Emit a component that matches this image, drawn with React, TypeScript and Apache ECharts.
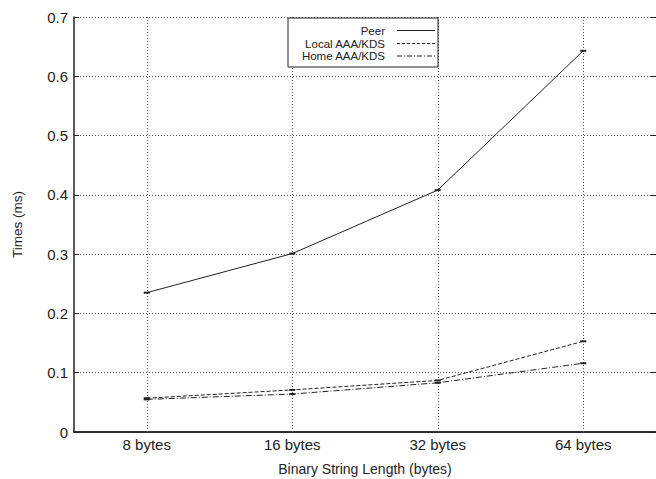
import React, { useEffect, useRef } from "react";
import * as echarts from "echarts";

const categories = ["8 bytes", "16 bytes", "32 bytes", "64 bytes"];
const peer = [0.235, 0.301, 0.408, 0.643];
const localKds = [0.057, 0.071, 0.087, 0.153];
const homeKds = [0.055, 0.064, 0.083, 0.116];
const seriesNames = ["Peer", "Local AAA/KDS", "Home AAA/KDS"];
const yTicks = { min: 0, max: 0.7, interval: 0.1 };

const FONT = "'Liberation Sans', Arial, sans-serif";
const INK = "#222";

export default function App() {
  const ref = useRef<HTMLDivElement>(null);
  useEffect(() => {
    if (!ref.current) return;
    const chart = echarts.init(ref.current, null, { renderer: "svg" });
    const lineStyles: any[] = [
      { type: "solid" },
      { type: [4, 2] },
      { type: [6, 2, 1, 2] },
    ];
    const datas = [peer, localKds, homeKds];
    const series: any[] = datas.map((d, i) => ({
      name: seriesNames[i],
      type: "line",
      data: d,
      symbol: "rect",
      symbolSize: [6, 2],
      itemStyle: { color: INK },
      lineStyle: { color: INK, width: 1, ...lineStyles[i] },
      z: 5,
      markLine:
        i === 0
          ? {
              silent: true,
              symbol: "none",
              label: { show: false },
              lineStyle: { color: "#555", type: [1, 2], width: 1 },
              data: categories.map((c) => ({ xAxis: c })),
              z: 1,
            }
          : undefined,
    }));
    const legendX = 288;
    const legendRows = [30.5, 43.5, 56];
    const graphic: any[] = [
      {
        type: "rect",
        shape: { x: legendX, y: 18, width: 150, height: 49 },
        style: { fill: "#fff", stroke: INK, lineWidth: 1 },
        z: 100,
      },
      ...seriesNames.map((n, i) => ({
        type: "text",
        x: 385,
        y: legendRows[i],
        style: {
          text: n,
          align: "right",
          verticalAlign: "middle",
          fill: INK,
          font: `11.5px ${FONT}`,
        },
        z: 101,
      })),
      ...seriesNames.map((n, i) => ({
        type: "line",
        shape: { x1: 397, y1: legendRows[i], x2: 435, y2: legendRows[i] },
        style: {
          stroke: INK,
          lineWidth: 1,
          lineDash: i === 0 ? null : i === 1 ? [3, 2] : [5, 2, 1, 2],
        },
        z: 101,
      })),
    ];
    chart.setOption({
      animation: false,
      backgroundColor: "#fff",
      textStyle: { fontFamily: FONT },
      grid: {
        left: 74,
        right: 0,
        top: 17,
        bottom: 47,
        containLabel: false,
        outerBoundsMode: "none",
      },
      xAxis: [
        {
          type: "category",
          data: categories,
          boundaryGap: true,
          name: "Binary String Length (bytes)",
          nameLocation: "middle",
          nameGap: 30,
          nameTextStyle: { color: INK, fontSize: 14, fontFamily: FONT },
          axisLine: { lineStyle: { color: INK, width: 1.5 } },
          axisTick: { inside: true, alignWithLabel: true, length: 5, lineStyle: { color: INK } },
          axisLabel: { color: INK, fontSize: 15, margin: 5, fontFamily: FONT },
          splitLine: { show: false },
        },
        {
          type: "category",
          data: categories,
          position: "top",
          boundaryGap: true,
          axisLine: { lineStyle: { color: INK, width: 1.5 } },
          axisTick: { inside: true, alignWithLabel: true, length: 5, lineStyle: { color: INK } },
          axisLabel: { show: false },
          splitLine: { show: false },
        },
      ],
      yAxis: [
        {
          type: "value",
          min: yTicks.min,
          max: yTicks.max,
          interval: yTicks.interval,
          name: "Times (ms)",
          nameLocation: "middle",
          nameGap: 50,
          nameRotate: 90,
          nameTextStyle: { color: INK, fontSize: 13.5, fontFamily: FONT },
          axisLine: { show: true, lineStyle: { color: INK, width: 1.5 } },
          axisTick: { show: true, inside: true, length: 5, lineStyle: { color: INK } },
          axisLabel: {
            color: INK,
            fontSize: 15,
            margin: 6,
            fontFamily: FONT,
            formatter: (v: number) => (v === 0 ? "0" : v.toFixed(1)),
          },
          splitLine: { show: true, lineStyle: { color: "#555", type: [1, 2], width: 1 } },
        },
        {
          type: "value",
          position: "right",
          min: yTicks.min,
          max: yTicks.max,
          interval: yTicks.interval,
          axisLine: { show: false },
          axisTick: { show: true, inside: true, length: 5, lineStyle: { color: INK } },
          axisLabel: { show: false },
          splitLine: { show: false },
        },
      ],
      series,
      graphic,
    });
    return () => chart.dispose();
  }, []);
  return (
    <div
      ref={ref}
      style={{ position: "fixed", left: 0, top: 0, width: 656, height: 479 }}
    />
  );
}
